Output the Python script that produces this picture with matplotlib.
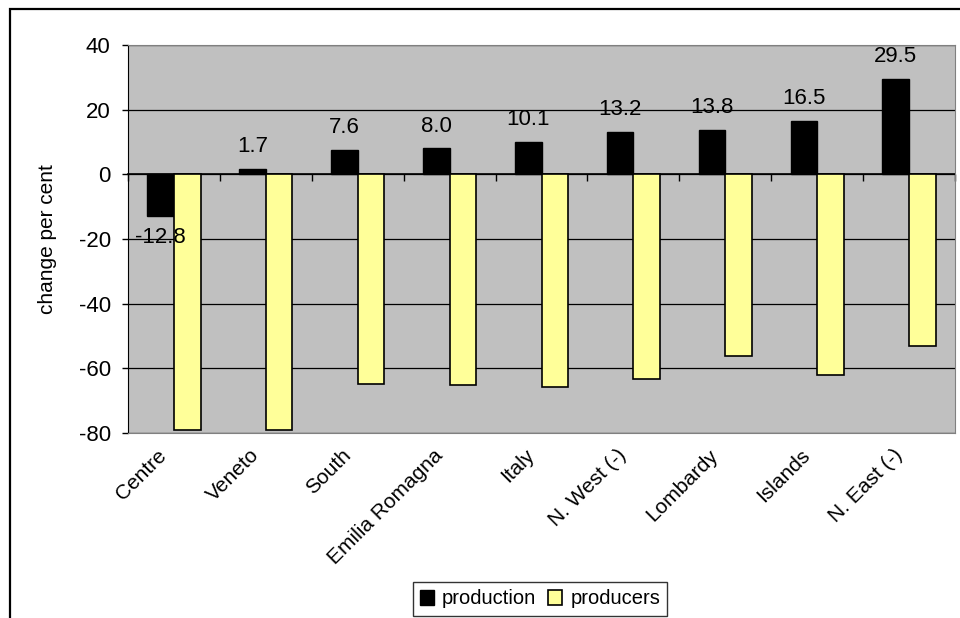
import matplotlib
matplotlib.use("Agg")
import matplotlib.pyplot as plt
import matplotlib.transforms as mtransforms
from matplotlib.patches import Rectangle
import numpy as np

regions = ["Centre", "Veneto", "South", "Emilia Romagna", "Italy",
           "N. West (-)", "Lombardy", "Islands", "N. East (-)"]
production = [-12.8, 1.7, 7.6, 8.0, 10.1, 13.2, 13.8, 16.5, 29.5]
producers = [-79.0, -79.0, -64.7, -65.3, -65.9, -63.3, -56.3, -62.2, -53.1]
y_ticks = [-80, -60, -40, -20, 0, 20, 40]

plt.rcParams['font.family'] = ['Liberation Sans', 'DejaVu Sans']
plt.rcParams['axes.unicode_minus'] = False

fig = plt.figure(figsize=(9.6, 6.18), dpi=100)
ax = fig.add_axes([128 / 960, 1 - 433 / 618, 827 / 960, 388 / 618])

x = np.arange(len(regions))
w = 0.29

ax.set_facecolor("#C0C0C0")
ax.set_axisbelow(True)
ax.yaxis.grid(True, color="black", linewidth=0.9)

b1 = ax.bar(x - w / 2, production, w, color="black", edgecolor="black",
            linewidth=1.0, label="production", zorder=3)
b2 = ax.bar(x + w / 2, producers, w, color="#FFFF99", edgecolor="black",
            linewidth=1.2, label="producers", zorder=3)

# value labels on the production bars
for xi, v in zip(x, production):
    off = 16 if v >= 0 else -16
    ax.annotate(f"{v:.1f}", (xi - w / 2, v), xytext=(0, off),
                textcoords="offset points", ha="center", va="center",
                fontsize=16, zorder=5)

ax.set_xlim(-0.5, len(regions) - 0.5)
ax.set_ylim(-80, 40)
ax.set_yticks(y_ticks)
ax.tick_params(axis="y", length=4.5, width=1, pad=8, labelsize=16)
ax.set_xticks(x)
ax.set_xticklabels(regions)
ax.tick_params(axis="x", length=0, pad=14, labelsize=15)
shift = mtransforms.ScaledTranslation(-0.1, 0, fig.dpi_scale_trans)
for lbl in ax.get_xticklabels():
    lbl.set_rotation(45)
    lbl.set_ha("right")
    lbl.set_va("center")
    lbl.set_rotation_mode("anchor")
    lbl.set_transform(lbl.get_transform() + shift)

for s in ["top", "right", "bottom"]:
    ax.spines[s].set_color("#808080")
ax.spines["left"].set_color("black")

# category axis crossing at zero
sec = ax.secondary_xaxis(80 / 120)
sec.set_xticks(np.arange(-0.5, len(regions), 1.0))
sec.tick_params(direction="in", length=5, width=1, labeltop=False,
                labelbottom=False)
sec.spines["top"].set_color("black")
sec.spines["top"].set_linewidth(1.2)

ax.set_ylabel("change per cent", fontsize=15, va="center")
ax.yaxis.set_label_coords((48 - 128) / 827, 0.5)

fig.legend(handles=[b1, b2], ncol=2, loc="center",
           bbox_to_anchor=(540 / 960, 1 - 599 / 618), fontsize=14.5,
           frameon=True, fancybox=False, edgecolor="black",
           handlelength=0.7, handleheight=0.7, handletextpad=0.4,
           columnspacing=0.6, borderpad=0.35, borderaxespad=0)

# chart border
fig.patches.append(Rectangle((10 / 960, -0.1), 1.2, 1.1 - 9 / 618,
                             transform=fig.transFigure, fill=False,
                             edgecolor="black", linewidth=1.6))

fig.savefig("out.png", dpi=100)
